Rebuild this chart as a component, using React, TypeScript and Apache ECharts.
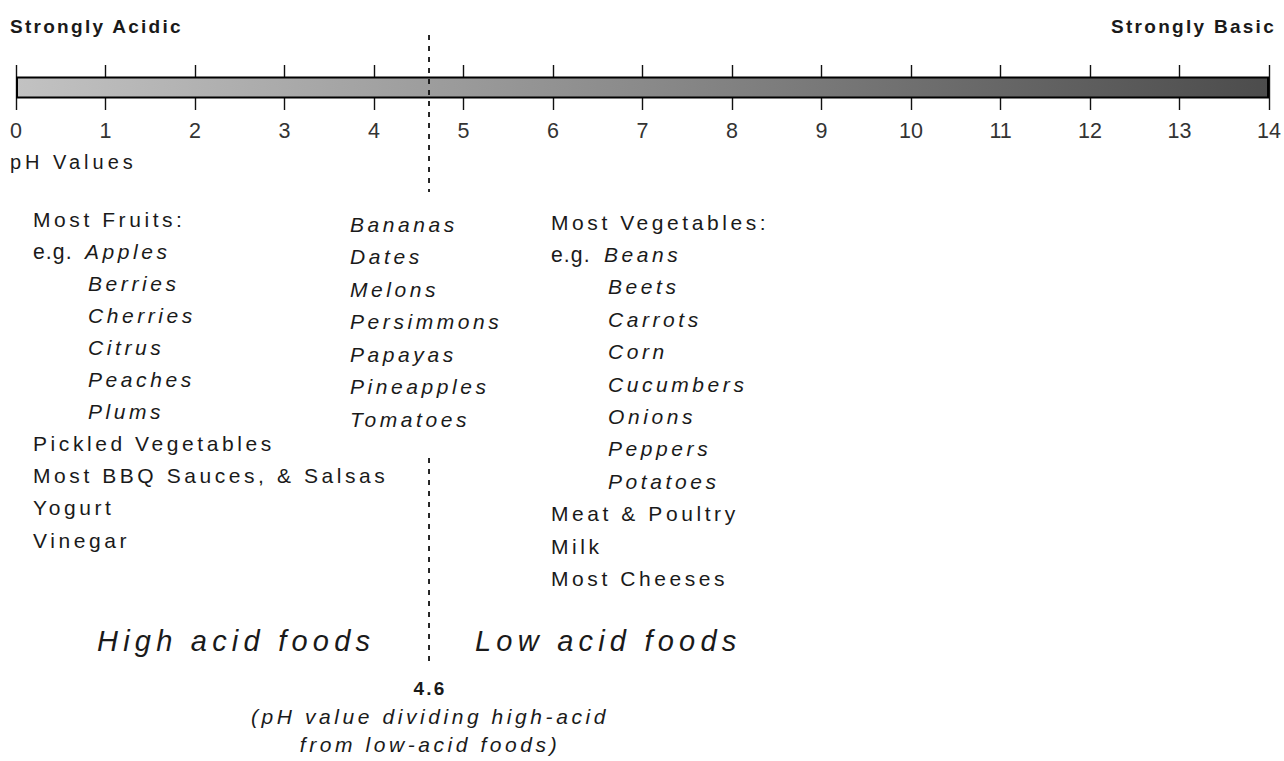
import React, { useEffect, useRef } from "react";
import * as echarts from "echarts";

// ---- data ----
const PH_MIN = 0;
const PH_MAX = 14;
const PH_STEP = 1;
const DIVIDER_PH = 4.6;
const SCALE_CATEGORY = ["pH"];
const SCALE_VALUE = [14];

const LEFT_HEAD = "Most Fruits:";
const FRUIT_EXAMPLES = ["Apples", "Berries", "Cherries", "Citrus", "Peaches", "Plums"];
const HIGH_ACID_OTHERS = ["Pickled Vegetables", "Most BBQ Sauces, & Salsas", "Yogurt", "Vinegar"];
const BORDERLINE_FOODS = ["Bananas", "Dates", "Melons", "Persimmons", "Papayas", "Pineapples", "Tomatoes"];
const RIGHT_HEAD = "Most Vegetables:";
const VEGETABLE_EXAMPLES = ["Beans", "Beets", "Carrots", "Corn", "Cucumbers", "Onions", "Peppers", "Potatoes"];
const LOW_ACID_OTHERS = ["Meat & Poultry", "Milk", "Most Cheeses"];

const TITLE_LEFT = "Strongly Acidic";
const TITLE_RIGHT = "Strongly Basic";
const AXIS_NAME = "pH Values";
const EG = "e.g.";
const HIGH_LABEL = "High acid foods";
const LOW_LABEL = "Low acid foods";
const DIVIDER_LABEL = "4.6";
const DIVIDER_CAPTION = ["(pH value dividing high-acid", "from low-acid foods)"];

// ---- layout ----
const W = 1284;
const H = 761;
const GRID_LEFT = 16;
const GRID_RIGHT = 11;
const DASH_SEGMENTS = [
  [35, 192],
  [458, 667],
];
const FONT = '"Liberation Sans", Arial, sans-serif';
const INK = "#1a1a1a";
const BODY = 21;

type TOpts = { size?: number; italic?: boolean; bold?: boolean; align?: string };
function txt(text: string, x: number, y: number, o: TOpts = {}) {
  return {
    type: "text",
    x,
    y,
    silent: true,
    z: 100,
    style: {
      text,
      fill: INK,
      fontFamily: FONT,
      fontSize: o.size ?? BODY,
      fontStyle: o.italic ? "italic" : "normal",
      fontWeight: o.bold ? "bold" : "normal",
      textAlign: o.align ?? "left",
      verticalAlign: "middle",
      textVerticalAlign: "middle",
    },
  };
}

function buildGraphics() {
  const g: any[] = [];
  g.push(txt(TITLE_LEFT, 10, 26, { size: 19, bold: true }));
  g.push(txt(TITLE_RIGHT, 1276, 26, { size: 19, bold: true, align: "right" }));
  g.push(txt(AXIS_NAME, 10, 162, { size: 20 }));

  // left column
  const lTop = 219, lStep = 32.1;
  g.push(txt(LEFT_HEAD, 33, lTop));
  g.push(txt(EG, 33, lTop + lStep, { size: 21.2 }));
  FRUIT_EXAMPLES.forEach((f, i) => {
    g.push(txt(f, i === 0 ? 85 : 88, lTop + lStep * (i + 1), { italic: true }));
  });
  HIGH_ACID_OTHERS.forEach((f, i) => {
    g.push(txt(f, 33, lTop + lStep * (i + 1 + FRUIT_EXAMPLES.length)));
  });

  // middle column
  const mTop = 224, mStep = 32.5;
  BORDERLINE_FOODS.forEach((f, i) => {
    g.push(txt(f, 350, mTop + mStep * i, { italic: true }));
  });

  // right column
  const rTop = 222, rStep = 32.4;
  g.push(txt(RIGHT_HEAD, 551, rTop));
  g.push(txt(EG, 551, rTop + rStep, { size: 21.2 }));
  VEGETABLE_EXAMPLES.forEach((f, i) => {
    g.push(txt(f, i === 0 ? 604 : 608, rTop + rStep * (i + 1), { italic: true }));
  });
  LOW_ACID_OTHERS.forEach((f, i) => {
    g.push(txt(f, 551, rTop + rStep * (i + 1 + VEGETABLE_EXAMPLES.length)));
  });

  // bottom labels
  g.push(txt(HIGH_LABEL, 97, 641, { size: 29, italic: true }));
  g.push(txt(LOW_LABEL, 475, 641, { size: 29, italic: true }));
  g.push(txt(DIVIDER_LABEL, 430, 688, { size: 19, bold: true, align: "center" }));
  DIVIDER_CAPTION.forEach((c, i) => {
    g.push(txt(c, 430, 716 + 28 * i, { italic: true, align: "center" }));
  });
  return g;
}

const CSS = `
#ph-chart text[style*="21px"] { letter-spacing: 0.17em; }
#ph-chart text[style*="21.2px"] { letter-spacing: 0.05em; }
#ph-chart text[style*="20px"] { letter-spacing: 0.2em; }
#ph-chart text[style*="19px"] { letter-spacing: 0.12em; }
#ph-chart text[style*="29px"] { letter-spacing: 0.18em; }
`;

export default function App() {
  const ref = useRef<HTMLDivElement>(null);

  useEffect(() => {
    if (!ref.current) return;
    const chart = echarts.init(ref.current, undefined, { renderer: "svg" });
    const dashSeries = DASH_SEGMENTS.map(([a, b]) => ({
      type: "line",
      xAxisIndex: 1,
      yAxisIndex: 1,
      data: [
        [DIVIDER_PH, a],
        [DIVIDER_PH, b],
      ],
      symbol: "none",
      silent: true,
      z: 20,
      lineStyle: { color: "#111", width: 1.8, type: [5, 6] },
    }));

    chart.setOption({
      animation: false,
      backgroundColor: "#fff",
      grid: [
        { left: GRID_LEFT, right: GRID_RIGHT, top: 65, height: 45, containLabel: false },
        { left: GRID_LEFT, right: GRID_RIGHT, top: 0, height: H, containLabel: false },
      ],
      xAxis: [
        {
          type: "value",
          gridIndex: 0,
          min: PH_MIN,
          max: PH_MAX,
          interval: PH_STEP,
          axisLine: { show: false },
          axisTick: { show: false },
          splitLine: {
            show: true,
            showMinLine: true,
            showMaxLine: true,
            lineStyle: { color: "#111", width: 1.4 },
          },
          axisLabel: {
            fontSize: 21.5,
            fontFamily: FONT,
            color: "#333",
            margin: 10,
            showMinLabel: true,
            showMaxLabel: true,
          },
        },
        { type: "value", gridIndex: 1, min: PH_MIN, max: PH_MAX, show: false },
      ],
      yAxis: [
        { type: "category", gridIndex: 0, data: SCALE_CATEGORY, show: false },
        { type: "value", gridIndex: 1, min: 0, max: H, inverse: true, show: false },
      ],
      series: [
        {
          type: "bar",
          xAxisIndex: 0,
          yAxisIndex: 0,
          data: SCALE_VALUE,
          barWidth: 22,
          silent: true,
          z: 5,
          itemStyle: {
            color: new echarts.graphic.LinearGradient(0, 0, 1, 0, [
              { offset: 0, color: "#c2c2c2" },
              { offset: 0.5, color: "#8a8a8a" },
              { offset: 1, color: "#4c4c4c" },
            ]),
            borderColor: "#000",
            borderWidth: 2,
          },
        },
        ...dashSeries,
      ],
      graphic: buildGraphics(),
    });
    return () => chart.dispose();
  }, []);

  return (
    <>
      <style>{CSS}</style>
      <div
        id="ph-chart"
        ref={ref}
        style={{ position: "fixed", left: 0, top: 0, width: W, height: H, background: "#fff" }}
      />
    </>
  );
}
